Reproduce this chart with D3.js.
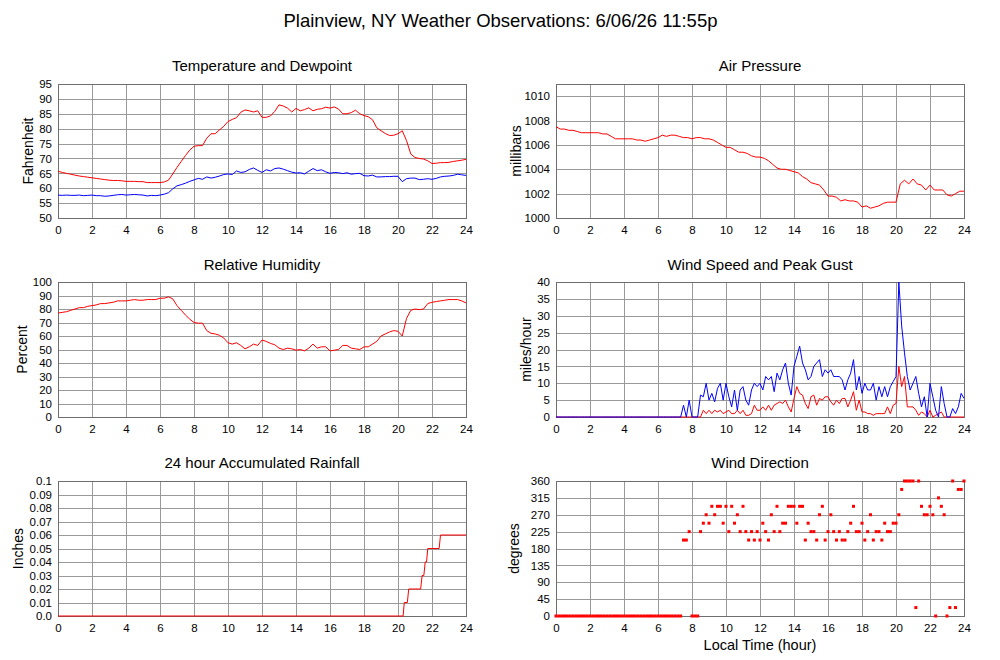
<!DOCTYPE html>
<html><head><meta charset="utf-8">
<script src="https://cdn.jsdelivr.net/npm/d3@7"></script>
<style>
body{margin:0;background:#fff;}
svg{display:block;font-family:"Liberation Sans",Arial,Helvetica,sans-serif;}
</style></head><body>
<svg id="chart" width="1000" height="660"></svg>
<script>
// ---------- DATA ----------
const mainTitle = "Plainview, NY Weather Observations: 6/06/26 11:55p";
const hourTicks = [0,2,4,6,8,10,12,14,16,18,20,22,24];

// 15-minute samples, 0:00 .. 24:00 (97 values)
const temperature = [
 65.7,65.3,65.0,64.7, 64.4,64.1,63.9,63.7, 63.5,63.3,63.1,62.9, 62.7,62.6,62.6,62.5,
 62.3,62.3,62.3,62.2, 62.2,61.9,61.9,61.9, 61.9,62.1,62.7,64.8, 67.0,69.0,71.0,72.8,
 74.1,74.3,74.3,76.8, 78.3,78.3,79.6,80.8, 82.4,83.1,83.7,85.5, 86.3,86.0,85.6,86.0,
 83.8,83.8,84.3,85.8, 88.0,87.6,86.9,85.6, 86.8,86.0,86.4,87.0, 86.0,86.5,86.7,87.2,
 86.9,87.3,86.6,85.0, 85.0,85.4,86.2,85.0, 84.4,84.0,83.0,80.3, 79.3,78.4,77.7,77.8,
 78.3,79.3,76.0,71.5, 70.3,70.0,69.8,69.2, 68.3,68.4,68.6,68.6, 68.7,69.0,69.2,69.4,
 69.7];
const dewpoint = [
 57.7,57.6,57.7,57.6, 57.6,57.7,57.5,57.6, 57.7,57.5,57.5,57.3, 57.4,57.6,57.8,57.9,
 57.7,57.8,57.9,57.8, 57.7,57.4,57.6,57.5, 57.7,58.0,58.5,59.8, 60.8,61.2,61.7,62.3,
 62.8,63.3,63.0,63.8, 63.4,63.7,64.1,64.6, 64.8,64.6,65.8,65.3, 65.5,66.3,66.8,66.0,
 65.3,66.2,65.8,66.6, 66.8,66.4,65.9,65.4, 65.1,65.2,64.8,65.7, 66.6,65.9,66.2,65.5,
 65.0,65.3,65.2,64.9, 65.2,64.7,64.9,65.0, 64.2,64.1,64.4,63.8, 63.8,63.9,63.9,64.0,
 64.0,62.2,63.2,63.4, 63.4,62.9,63.0,63.2, 63.0,63.3,63.8,64.0, 64.1,64.3,64.7,64.5,
 64.3];
const pressure = [
 1007.5,1007.3,1007.3,1007.2, 1007.2,1007.1,1007.0,1007.0, 1007.0,1007.0,1007.0,1006.9,
 1006.9,1006.7,1006.5,1006.5, 1006.5,1006.5,1006.5,1006.4, 1006.4,1006.3,1006.4,1006.5,
 1006.6,1006.8,1006.7,1006.8, 1006.8,1006.7,1006.6,1006.6, 1006.5,1006.6,1006.6,1006.5,
 1006.5,1006.4,1006.2,1006.0, 1005.8,1005.8,1005.6,1005.4, 1005.4,1005.3,1005.1,1005.0,
 1005.0,1004.9,1004.7,1004.4, 1004.1,1004.0,1004.0,1003.9, 1003.8,1003.7,1003.4,1003.2,
 1002.9,1002.8,1002.7,1002.3, 1001.8,1001.8,1001.7,1001.4, 1001.5,1001.4,1001.4,1001.3,
 1000.9,1001.0,1000.8,1000.9, 1001.0,1001.2,1001.3,1001.3, 1001.3,1002.8,1003.1,1002.8,
 1003.2,1002.8,1002.7,1002.3, 1002.7,1002.3,1002.3,1002.3, 1001.9,1001.8,1002.0,1002.2,
 1002.2];
const humidity = [
 77,77.5,78,79, 80,81,81,82, 82.5,83,84,84, 84.5,85,86,86,
 86,86.5,87,86.5, 86.5,87,87,87, 88,88,89,87.5, 82.5,79,75.5,72.5,
 70,69.5,69.5,64, 62,61.5,60.5,58.5, 55,54,55,53, 50.5,52,54,53,
 57,56,54.5,53.5, 51,50,51,50.5, 49.5,50,49,51, 54,51,52,52,
 49,49.5,50,53, 53,51,50.5,50, 52,52,54,56, 60,61.5,63,64,
 63.5,60,73,79, 80,79.5,80,84, 85,85.5,86,86.5, 87,87,87,86,
 84.5];

// 10-minute samples, 0:00 .. 24:00 (145 values)
const windGust = [
 0,0,0,0,0,0, 0,0,0,0,0,0, 0,0,0,0,0,0, 0,0,0,0,0,0,
 0,0,0,0,0,0, 0,0,0,0,0,0, 0,0,0,0,0,0,
 0,0,0,3.5,0,5,
 0,0,0,6.5,6,10,
 5,7,4.5,8.5,10,5,
 10,6,3,8,2,8,
 9,5,3.5,8,10,9,
 10,8,12,11,12,7.5,
 13,11,14,16,10,6.5,
 15,18,21,16,14,11,
 12,15,16,17,12,14,
 13,14,12,12,12,11,
 8,11,13,17,8,12,
 7,10,8,8,10,5,
 9,6,9,6,9,10.5,
 12,40,27,19,12,8,
 10,12,7,3,6,0,
 10,6,2,0,9,4,
 0,0,2.5,1,3,7,
 5.5];
const windSpeed = [
 0,0,0,0,0,0, 0,0,0,0,0,0, 0,0,0,0,0,0, 0,0,0,0,0,0,
 0,0,0,0,0,0, 0,0,0,0,0,0, 0,0,0,0,0,0,
 0,0,0,0,0,0,
 0,0,0,0,2,1,
 2,1,2,1.5,2,1,
 1.5,2,1,1,2,1,
 2,0.5,0.5,1,3.5,2,
 2,3,2,3.5,2,3.5,
 4,4.5,4,5,3,1.5,
 5.5,9,7,6.5,4,2.5,
 6,6.5,3.5,5.5,5,6,
 6,4.5,3.5,5,4,5.5,
 5.5,3,5,7.5,2,5,
 1.5,1.5,1,1,0.5,1,
 1,1,1,3,1,3.5,
 4,15,9,12,3,3,
 3,2,0.5,1.5,1,0,
 2,0,0.5,1,1.5,0,
 0,0,0,0,0,0,
 0];
const windDirection = [
 0,0,0,0,0,0, 0,0,0,0,0,0, 0,0,0,0,0,0, 0,0,0,0,0,0,
 0,0,0,0,0,0, 0,0,0,0,0,0, 0,0,0,0,0,0,
 0,0,0,202.5,202.5,225,
 0,0,0,225,247.5,270,
 247.5,292.5,270,292.5,292.5,247.5,
 292.5,225,292.5,247.5,270,225,
 292.5,225,202.5,225,202.5,225,
 202.5,247.5,225,202.5,270,225,
 292.5,225,247.5,247.5,292.5,292.5,
 292.5,247.5,292.5,292.5,202.5,247.5,
 225,225,202.5,270,292.5,202.5,
 225,270,225,202.5,225,202.5,
 202.5,225,247.5,292.5,225,225,
 247.5,202.5,225,270,202.5,225,
 225,202.5,247.5,225,225,247.5,
 247.5,270,337.5,360,360,360,
 360,22.5,360,292.5,270,270,
 292.5,270,0,315,292.5,270,
 0,22.5,360,22.5,337.5,337.5,
 360];

// accumulated rainfall (hour, inches)
const rainHours  = [0,20.30,20.37,20.55,20.63,21.33,21.42,21.52,21.60,21.68,21.75,22.42,22.50,24];
const rainInches = [0,0,0.01,0.01,0.02,0.02,0.03,0.03,0.04,0.04,0.05,0.05,0.06,0.06];

// tick values
const tempTicks = [50,55,60,65,70,75,80,85,90,95];
const pressureTicks = [1000,1002,1004,1006,1008,1010];
const humidityTicks = [0,10,20,30,40,50,60,70,80,90,100];
const windTicks = [0,5,10,15,20,25,30,35,40];
const rainTicks = [0,0.01,0.02,0.03,0.04,0.05,0.06,0.07,0.08,0.09,0.1];
const rainTickLabels = ["0.0","0.01","0.02","0.03","0.04","0.05","0.06","0.07","0.08","0.09","0.1"];
const dirTicks = [0,45,90,135,180,225,270,315,360];

// ---------- LAYOUT ----------
const RED = "#ff0000", BLUE = "#0000ff";
const colX = [[58,466],[556,964]];
const rowY = [[84,218],[282,417],[481,616]];
const titleBase = [70.5,269.5,467.5];

const svg = d3.select("#chart");
svg.append("rect").attr("width",1000).attr("height",660).attr("fill","#fff");

svg.append("text").attr("x",500.5).attr("y",26.5).attr("text-anchor","middle")
  .attr("font-size","18.5px").attr("fill","#000").text(mainTitle);

const t15 = (d,i)=>i*0.25;
const t10 = (d,i)=>i/6;

const panels = [
 {title:"Temperature and Dewpoint", c:0, r:0, domain:[50,95], ticks:tempTicks, label:"Fahrenheit", lx:32.5,
  lines:[{t:temperature.map(t15), v:temperature, color:RED},{t:dewpoint.map(t15), v:dewpoint, color:BLUE}]},
 {title:"Air Pressure", c:1, r:0, domain:[1000,1011], ticks:pressureTicks, label:"millibars", lx:521,
  lines:[{t:pressure.map(t15), v:pressure, color:RED}]},
 {title:"Relative Humidity", c:0, r:1, domain:[0,100], ticks:humidityTicks, label:"Percent", lx:26.7,
  lines:[{t:humidity.map(t15), v:humidity, color:RED}]},
 {title:"Wind Speed and Peak Gust", c:1, r:1, domain:[0,40], ticks:windTicks, label:"miles/hour", lx:531,
  lines:[{t:windSpeed.map(t10), v:windSpeed, color:RED},{t:windGust.map(t10), v:windGust, color:BLUE}]},
 {title:"24 hour Accumulated Rainfall", c:0, r:2, domain:[0,0.1], ticks:rainTicks, tickLabels:rainTickLabels, label:"Inches", lx:22.7,
  lines:[{t:rainHours, v:rainInches, color:RED}]},
 {title:"Wind Direction", c:1, r:2, domain:[0,360], ticks:dirTicks, label:"degrees", lx:519,
  dots:{t:windDirection.map(t10), v:windDirection, color:RED}}
];

panels.forEach(p=>{
  const [x0,x1] = colX[p.c], [y0,y1] = rowY[p.r];
  const x = d3.scaleLinear().domain([0,24]).range([x0,x1]);
  const y = d3.scaleLinear().domain(p.domain).range([y1,y0]);
  const g = svg.append("g");

  // title
  g.append("text").attr("x",(x0+x1)/2).attr("y",titleBase[p.r]).attr("text-anchor","middle")
   .attr("font-size","15px").attr("fill","#000").text(p.title);

  // grid
  const grid = g.append("g").attr("stroke","#9a9a9a").attr("stroke-width",1).attr("shape-rendering","crispEdges");
  p.ticks.forEach(v=>{
    const yy = Math.round(y(v))+0.5;
    grid.append("line").attr("x1",x0).attr("x2",x1).attr("y1",yy).attr("y2",yy);
  });
  hourTicks.forEach(h=>{
    const xx = Math.round(x(h))+0.5;
    grid.append("line").attr("x1",xx).attr("x2",xx).attr("y1",y0).attr("y2",y1);
  });
  g.append("rect").attr("x",x0+0.5).attr("y",y0+0.5).attr("width",x1-x0).attr("height",y1-y0)
   .attr("fill","none").attr("stroke","#6e6e6e").attr("shape-rendering","crispEdges");

  // axes (labels only)
  const ya = d3.axisLeft(y).tickValues(p.ticks).tickSize(0).tickPadding(6)
    .tickFormat((d,i)=> p.tickLabels ? p.tickLabels[i] : String(d));
  const yg = g.append("g").attr("transform",`translate(${x0},0)`).call(ya);
  const xa = d3.axisBottom(x).tickValues(hourTicks).tickSize(0).tickPadding(7.5).tickFormat(d=>String(d));
  const xg = g.append("g").attr("transform",`translate(0,${y1})`).call(xa);
  [yg,xg].forEach(a=>{
    a.select(".domain").remove();
    a.attr("font-size","11.5px").attr("font-family",null);
    a.selectAll("text").attr("fill","#000");
  });

  // y label
  g.append("text").attr("transform",`translate(${p.lx},${(y0+y1)/2}) rotate(-90)`)
   .attr("text-anchor","middle").attr("font-size","14px").attr("fill","#000").text(p.label);

  // series
  const clip = "clip"+p.c+p.r;
  g.append("clipPath").attr("id",clip).append("rect").attr("x",x0).attr("y",y0-1).attr("width",x1-x0+1).attr("height",y1-y0+2);
  (p.lines||[]).forEach(s=>{
    const line = d3.line().x((d,i)=>x(s.t[i])).y(d=>y(d));
    g.append("path").attr("d",line(s.v)).attr("fill","none").attr("stroke",s.color)
     .attr("stroke-width",1).attr("stroke-linejoin","round").attr("clip-path",`url(#${clip})`);
  });
  if(p.dots){
    const s = p.dots;
    g.append("g").selectAll("rect").data(s.v).join("rect")
     .attr("x",(d,i)=>x(s.t[i])-1.5).attr("y",d=>y(d)-1.5)
     .attr("width",3).attr("height",3).attr("fill",s.color);
  }
});

svg.append("text").attr("x",760).attr("y",650).attr("text-anchor","middle")
  .attr("font-size","14.5px").attr("fill","#000").text("Local Time (hour)");
</script>
</body></html>
